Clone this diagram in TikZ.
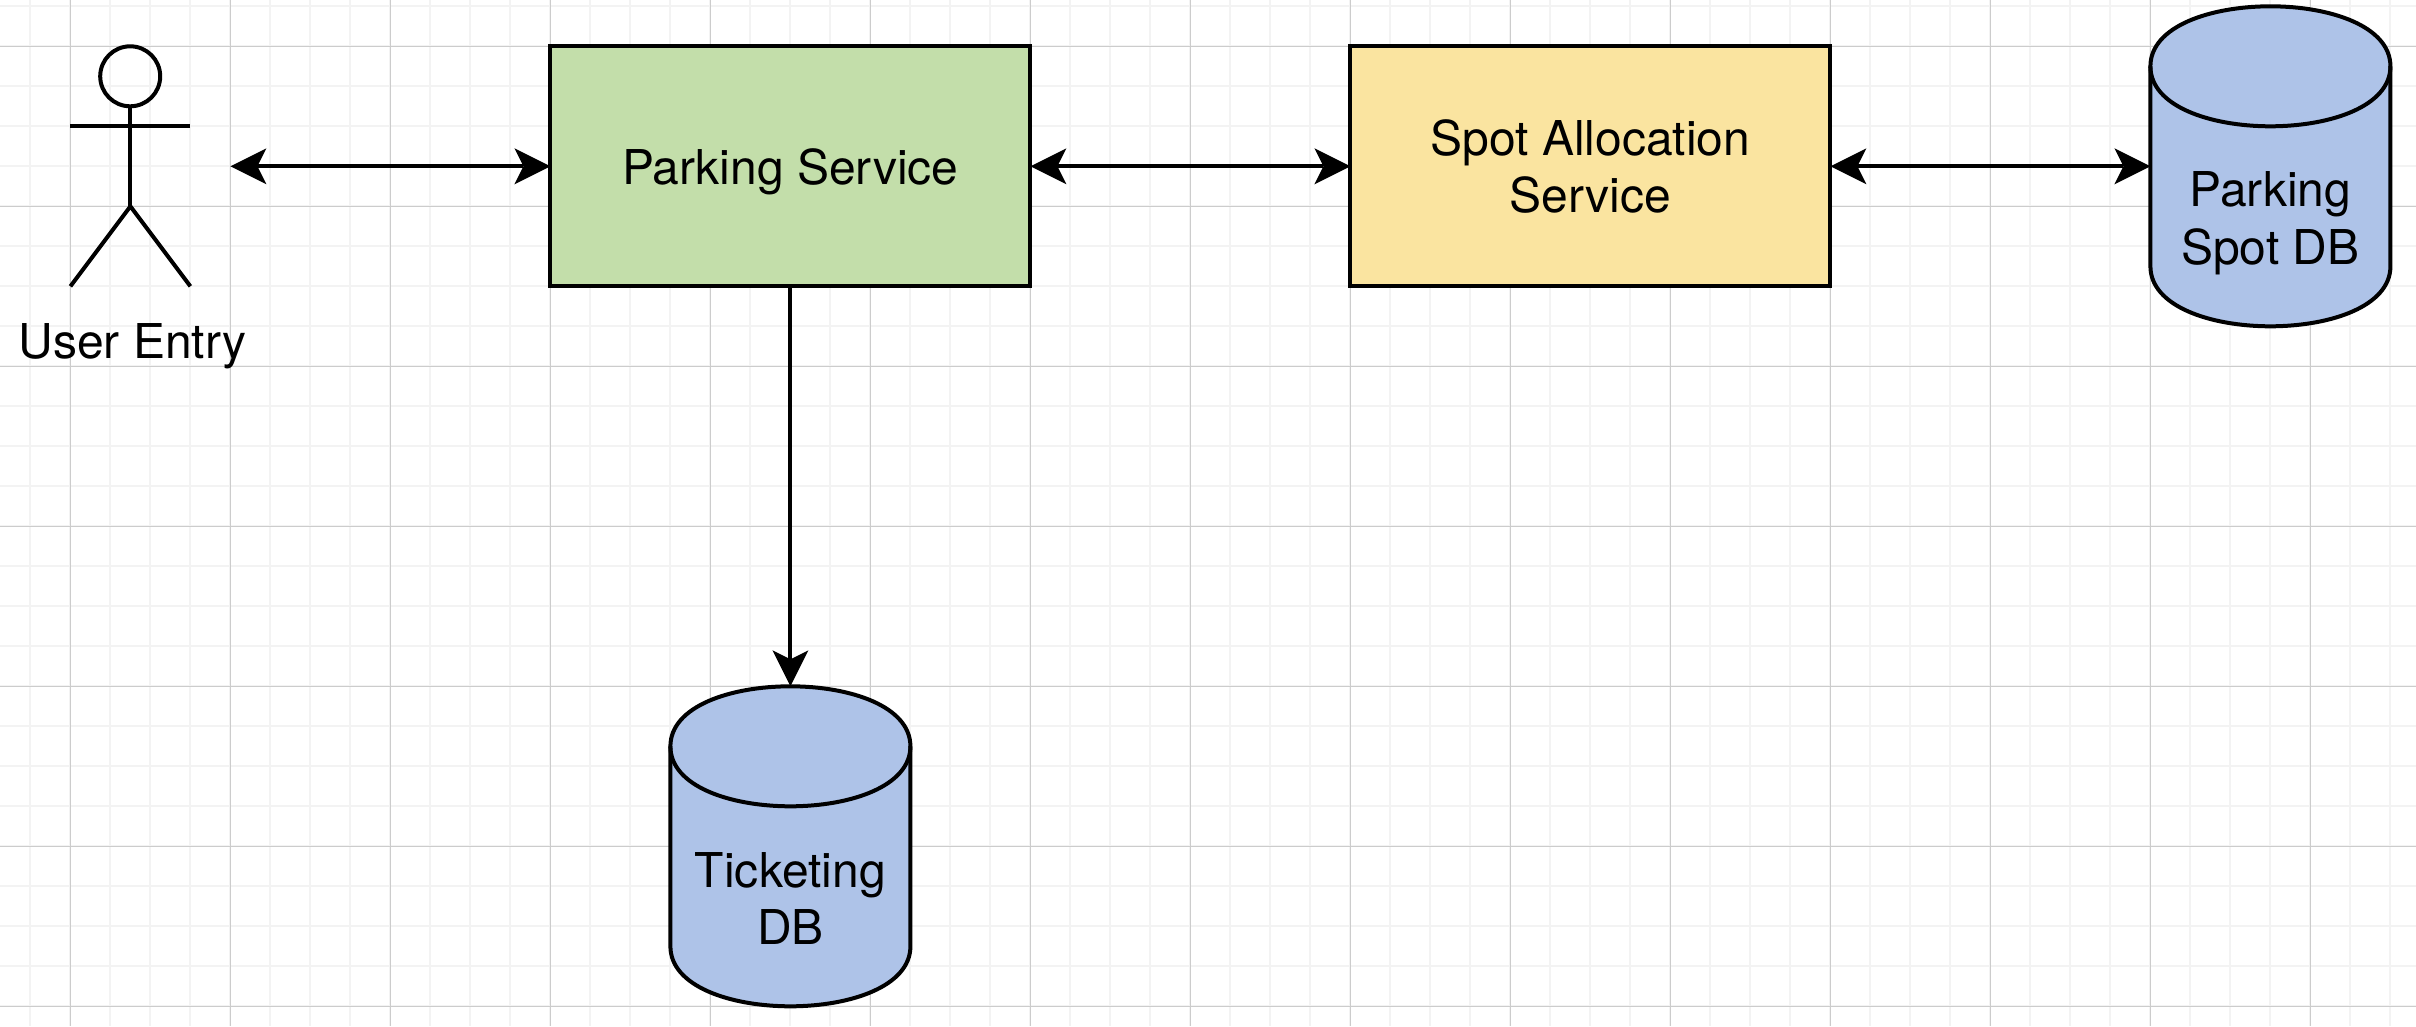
\documentclass[tikz,border=0pt]{standalone}
\usepackage{fontspec}
\setmainfont{TeX Gyre Heros}
\usetikzlibrary{arrows.meta}
\definecolor{gridmajor}{HTML}{CCCCCC}
\definecolor{gridminor}{HTML}{F3F3F3}
\definecolor{svcgreen}{HTML}{C3DEAA}
\definecolor{svcyellow}{HTML}{FAE4A0}
\definecolor{dbblue}{HTML}{AEC3E8}
\tikzset{
  outline/.style={draw=black,line width=4pt},
  service/.style={outline,rectangle,minimum width=480pt,minimum height=240pt,inner sep=0pt,outer sep=0pt,align=center,
    font=\fontsize{48}{57.6}\selectfont},
  dbbox/.style={rectangle,minimum width=240pt,minimum height=320pt,inner sep=0pt,outer sep=0pt,align=center,
    font=\fontsize{48}{57.6}\selectfont},
  caption/.style={inner sep=0pt,outer sep=0pt,align=center,font=\fontsize{48}{57.6}\selectfont},
  link/.style={line width=4pt,>={Stealth[length=36pt,width=36pt,inset=9pt,line width=0pt]}},
  stick/.style={line width=4pt,line cap=butt}
}
\newcommand{\dbcylinder}[2]{% left, top; 240 x 320, dy = 60
  \path[outline,fill=dbblue] (#1,#2+60) .. controls (#1,#2-20) and (#1+240,#2-20) .. (#1+240,#2+60)
     -- (#1+240,#2+260) .. controls (#1+240,#2+340) and (#1,#2+340) .. (#1,#2+260) -- cycle;
  \path[outline] (#1,#2+60) .. controls (#1,#2+140) and (#1+240,#2+140) .. (#1+240,#2+60);
}
\newcommand{\topgap}[1]{\rule{0pt}{#1pt}}
\newcommand{\botgap}[1]{\rule[-#1pt]{0pt}{#1pt}}
\begin{document}
\begin{tikzpicture}[x=1pt,y=-1pt]
\useasboundingbox (0,0) rectangle (2416,1026);
\fill[white] (0,0) rectangle (2416,1026);
% grid
\foreach \k in {0,...,60} {
  \pgfmathsetmacro{\gx}{-9.6+40*\k}
  \draw[gridminor,line width=2pt] (\gx,0) -- (\gx,1026);
}
\foreach \k in {0,...,26} {
  \pgfmathsetmacro{\gy}{6.3+40*\k}
  \draw[gridminor,line width=2pt] (0,\gy) -- (2416,\gy);
}
\foreach \k in {0,...,14} {
  \pgfmathsetmacro{\gx}{70.4+160*\k}
  \draw[gridmajor,line width=1.2pt] (\gx,0) -- (\gx,1026);
}
\foreach \k in {0,...,6} {
  \pgfmathsetmacro{\gy}{46.3+160*\k}
  \draw[gridmajor,line width=1.2pt] (0,\gy) -- (2416,\gy);
}
% actor
\draw[stick] (130.2,76.3) circle [radius=30pt];
\draw[stick] (130.4,106.3) -- (130.4,206.3);
\draw[stick] (70.4,126.3) -- (190.4,126.3);
\draw[stick] (70.4,286.3) -- (130.4,206.3) -- (190.4,286.3);
\node[caption,anchor=base] (userlabel) at (132.5,358) {User Entry};
\coordinate (user) at (230.4,166.3);
% services
\node[service,fill=svcgreen] (parking) at (790.4,166.3) {\topgap{60}Parking Service\botgap{24.6}};
\node[service,fill=svcyellow] (spot) at (1590.4,166.3) {\topgap{53}Spot Allocation\\Service\botgap{17.6}};
% databases
\dbcylinder{2150.4}{6.3}
\node[dbbox] (spotdb) at (2270.4,166.3) {\topgap{160}Parking\\Spot DB\botgap{21.6}};
\dbcylinder{670.4}{686.3}
\node[dbbox] (ticketdb) at (790.4,846.3) {\topgap{161}Ticketing\\DB\botgap{21.6}};
% connectors
\draw[link,<->] (user) -- (parking.west);
\draw[link,<->] (parking.east) -- (spot.west);
\draw[link,<->] (spot.east) -- (spotdb.west);
\draw[link,->] (parking.south) -- (ticketdb.north);
\end{tikzpicture}
\end{document}
